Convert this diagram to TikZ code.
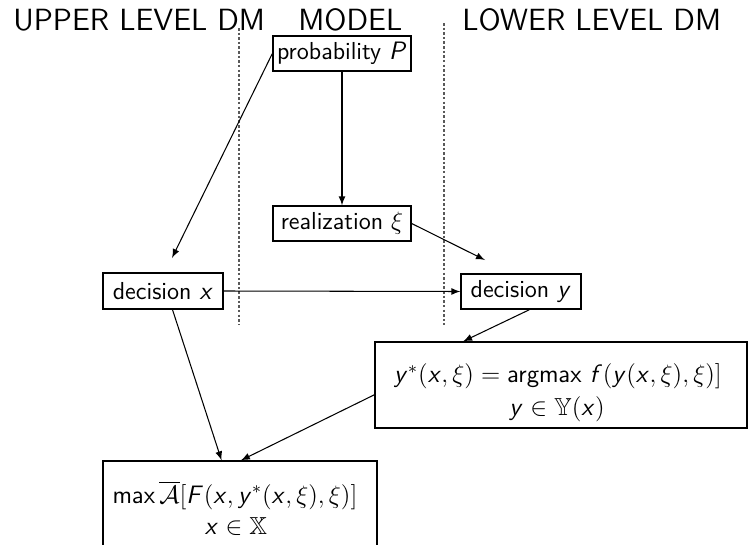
\documentclass[tikz,border=0pt]{standalone}
\usepackage{amssymb}
\usetikzlibrary{arrows}
\DeclareMathAlphabet{\mathsi}{OT1}{cmss}{m}{sl}
\DeclareMathAlphabet{\mathsu}{OT1}{cmss}{m}{n}
\newcommand{\qx}{\mathsi{x}}
\newcommand{\qy}{\mathsi{y}}
\newcommand{\qf}{\mathsi{f}}
\newcommand{\qF}{\mathsi{F}}
\newcommand{\qP}{\mathsi{P}}
\begin{document}
\begin{tikzpicture}[x=0.476pt,y=-0.476pt,
  font=\fontsize{11.7}{14}\selectfont\sffamily,
  box/.style={draw=black, line width=0.6pt, inner sep=0pt, rectangle},
  hdr/.style={anchor=base west, font=\fontsize{14.6}{17}\selectfont\sffamily},
  arr/.style={draw=black, line width=0.5pt, -latex},
  sep/.style={draw=black!65, line width=0.6pt, dash pattern=on 1.2pt off 1pt},
  txt/.style={anchor=base, inner sep=0pt}]
\useasboundingbox (0,0) rectangle (748,545);

% headers
\node[hdr] (h1) at (6,30) {UPPER LEVEL DM};
\node[hdr] (h2) at (291,30) {MODEL};
\node[hdr] (h3) at (455,30) {LOWER LEVEL DM};

% separators
\draw[sep] (239,28) -- (239,325);
\draw[sep] (444,23) -- (444,325);

% boxes
\node[box, minimum width=65.7pt, minimum height=16.7pt] (prob) at (342,53.5) {probability $\qP$};
\node[box, minimum width=65.7pt, minimum height=16.7pt] (real) at (342,223.5) {realization $\xi$};
\node[box, minimum width=57.1pt, minimum height=17.1pt] (decx) at (163,291) {decision $\qx$};
\node[box, minimum width=57.1pt, minimum height=16.7pt] (decy) at (521,291.5) {decision $\qy$};
\node[box, minimum width=177.1pt, minimum height=40.9pt] (ystar) at (561,385) {};
\node[box, minimum width=130.4pt, minimum height=47.6pt] (maxbox) at (240,511) {};

% box texts
\node[txt] (ys1) at (558,383) {$\qy^*(\qx,\xi) = \mathsu{argmax}\ \qf(\qy(\qx,\xi),\xi)]$};
\node[txt] (ys2) at (557,415) {$\qy \in \mathbb{Y}(\qx)$};
\node[txt] (mx1) at (235,503) {$\mathsu{max}\,\overline{\mathcal{A}}[\qF(\qx,\qy^*(\qx,\xi),\xi)]$};
\node[txt] (mx2) at (236,534) {$\qx \in \mathbb{X}$};

% free ends
\coordinate (t1) at (172,258);
\coordinate (t3) at (485,260);

% connectors
\draw[arr] (prob.west) -- (t1);
\draw[arr] (prob.south) -- (real.north);
\draw[arr] (real.east) -- (t3);
\draw[arr] (decx.east) -- (decy.west);
\draw[arr] (decy.-65) -- (ystar.156);
\draw[arr] (decx.-63) -- (maxbox.110);
\draw[arr] (ystar.-177.5) -- (maxbox.89);
\end{tikzpicture}
\end{document}
